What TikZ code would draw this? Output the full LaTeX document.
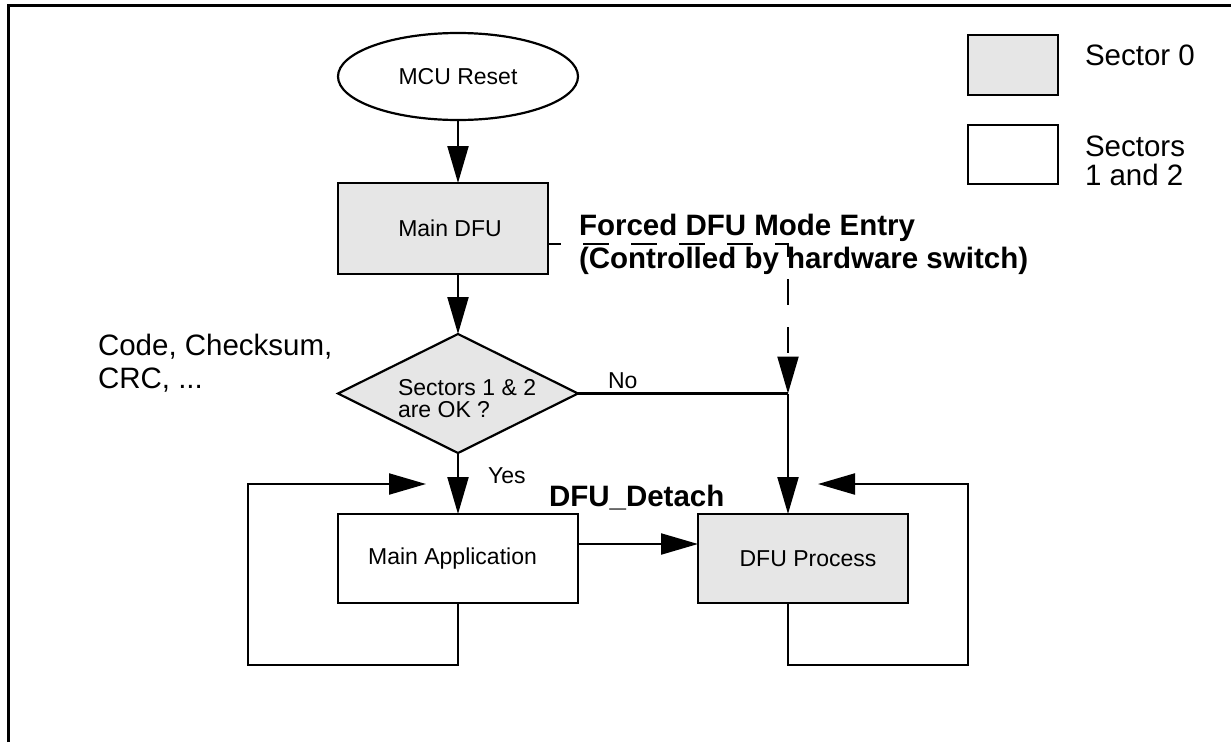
\documentclass[tikz,border=0pt]{standalone}
\usepackage{fontspec}
\setmainfont{Liberation Sans}
\usetikzlibrary{shapes.geometric,arrows.meta,calc}
\definecolor{secgray}{RGB}{230,230,230}
\begin{document}
\begin{tikzpicture}[x=1pt,y=-1pt,
  every node/.style={inner sep=0pt, outer sep=0pt},
  shapeline/.style={draw, line width=2.2pt},
  sec0/.style={shapeline, fill=secgray},
  sec12/.style={shapeline, fill=white},
  conn/.style={line width=2.2pt},
  arr/.style={conn, -{Triangle[length=37pt,width=21pt]}},
  forced/.style={arr, dash pattern=on 26pt off 22pt, dash phase=13pt},
  small/.style={font=\fontsize{23}{22}\selectfont},
  big/.style={font=\fontsize{29.5}{28.5}\selectfont},
  bigbold/.style={font=\fontsize{29.5}{33}\selectfont\bfseries},
]
\useasboundingbox (0,0) rectangle (1231,742);
% frame (cropped)
\draw[line width=3pt] (8,742) -- (8,5) -- (1231,5);

% flow nodes
\node[sec12, ellipse, minimum width=240pt, minimum height=87pt, small] (reset) at (458,76.5) {MCU Reset};
\node[sec0, minimum width=210pt, minimum height=91pt, small] (maindfu) at (443,228.5) {\hspace*{14pt}Main DFU};
\node[sec0, diamond, minimum width=240pt, minimum height=119pt] (check) at (458,393.5) {};
\node[small, anchor=base west, align=left] (checktxt) at (398,417) {Sectors 1 \& 2\\are OK ?};
\node[sec12, minimum width=240pt, minimum height=89pt, small] (mainapp) at (458,558.5) {\hspace*{-11pt}Main Application};
\node[sec0, minimum width=210pt, minimum height=89pt, small] (dfuproc) at (803,558.5) {\hspace*{10pt}DFU Process};

% legend
\node[sec0, minimum width=90pt, minimum height=60pt] (leg0) at (1013,65) {};
\node[sec12, minimum width=90pt, minimum height=59pt] (leg12) at (1013,154.5) {};
\node[big, anchor=base west] (leg0txt) at (1085,65) {Sector 0};
\node[big, anchor=base west, align=left] (leg12txt) at (1085,185) {Sectors\\1 and 2};

% labels
\node[font=\fontsize{29.5}{33}\selectfont, anchor=base west, align=left] (crc) at (98,388) {Code, Checksum,\\CRC, ...};
\node[bigbold, anchor=base west, align=left] (forcedtxt) at (579,268) {Forced DFU Mode Entry\\(Controlled by hardware switch)};
\node[bigbold, anchor=base west] (detach) at (549,506) {DFU\_Detach};
\node[small, anchor=base west] (no) at (608,388) {No};
\node[small, anchor=base west] (yes) at (488,483) {Yes};

% coordinates
\coordinate (join) at (788,393.5);
\coordinate (loopL) at (248,665);
\coordinate (loopLend) at (426,484);
\coordinate (loopR) at (968,665);
\coordinate (loopRend) at (818,484);

% connectors
\draw[arr] (reset.south) -- (reset.south |- maindfu.north);
\draw[arr] (check.north |- maindfu.south) -- (check.north);
\draw[arr] (check.south) -- (mainapp.north);
\draw[conn] (check.east) -- (join);
\draw[arr] (join) -- (join |- dfuproc.north);
\draw[forced] ([yshift=-15.5pt]maindfu.east) -| (join);
\draw[arr] ([yshift=14.5pt]mainapp.east) -- ([yshift=14.5pt]dfuproc.west);
\draw[arr] (mainapp.south) |- (loopL) |- (loopLend);
\draw[arr] (join |- dfuproc.south) |- (loopR) |- (loopRend);
\end{tikzpicture}
\end{document}
